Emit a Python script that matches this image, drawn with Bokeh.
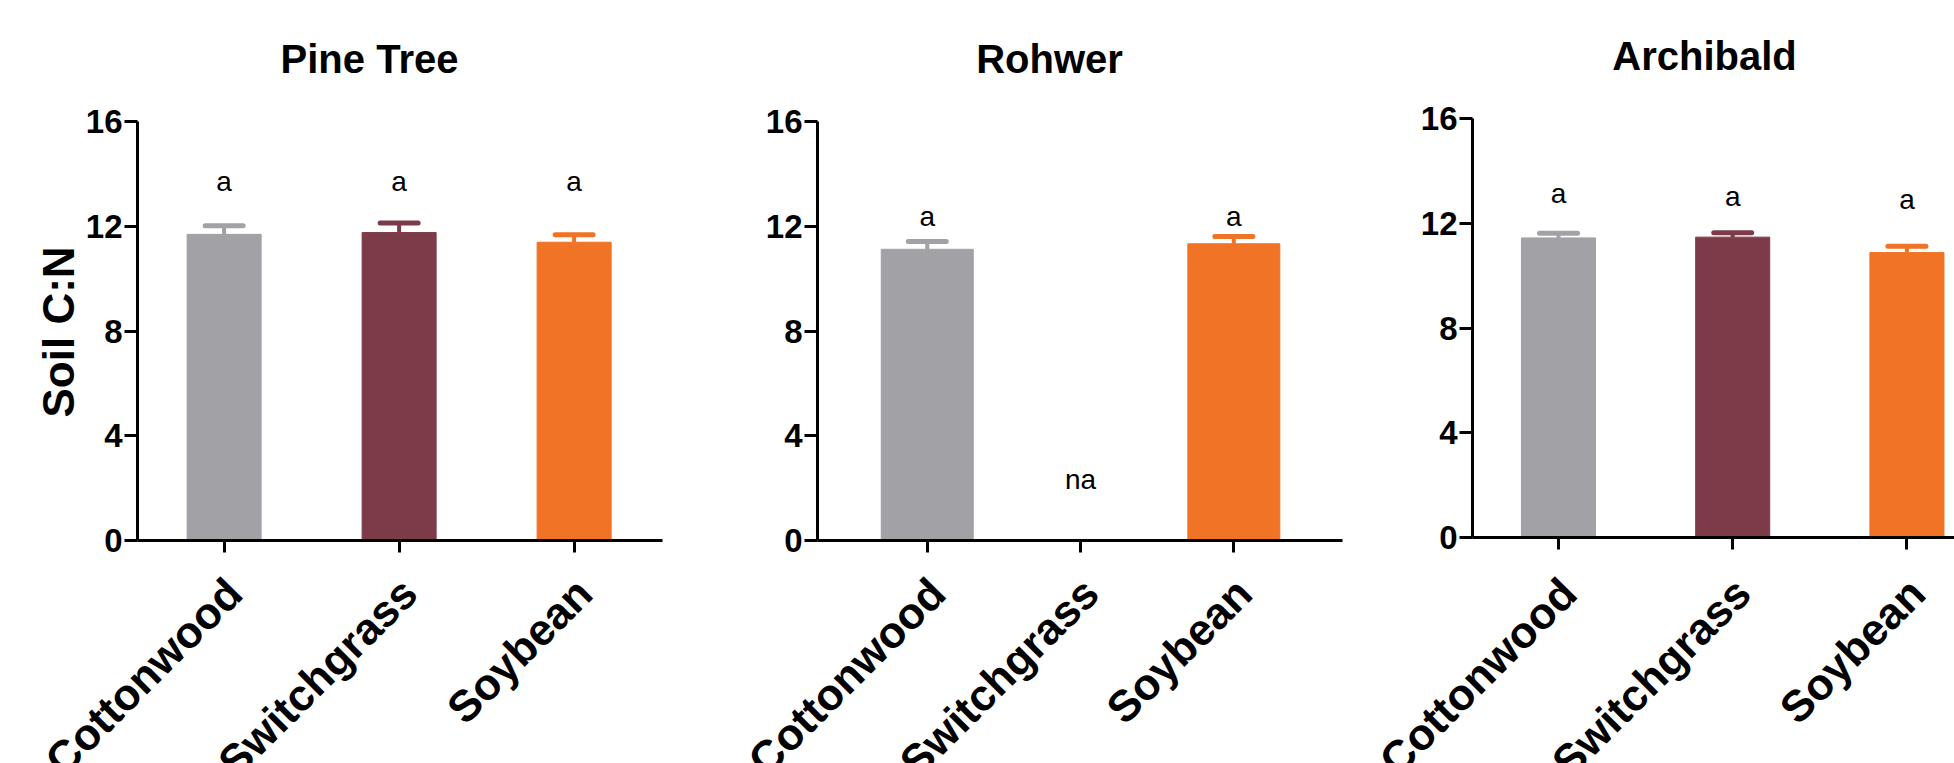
import math
from bokeh.plotting import figure
from bokeh.models import Range1d, FixedTicker, Title, CustomLabelingPolicy
from bokeh.models import ColumnDataSource
from bokeh.layouts import row, column
from bokeh.embed import file_html
from bokeh.resources import INLINE
from bokeh.core.properties import value

# ---------------- data ----------------
categories = ["Cottonwood", "Switchgrass", "Soybean"]
sites = ["Pine Tree", "Rohwer", "Archibald"]

pine_tree_mean = [11.69, 11.76, 11.39]
pine_tree_se = [0.33, 0.36, 0.29]
rohwer_mean = [11.12, None, 11.33]
rohwer_se = [0.30, None, 0.28]
archibald_mean = [11.44, 11.47, 10.88]
archibald_se = [0.18, 0.17, 0.24]

pine_tree_letters = ["a", "a", "a"]
rohwer_letters = ["a", "na", "a"]
archibald_letters = ["a", "a", "a"]
pine_tree_letter_y = [13.7, 13.7, 13.7]
rohwer_letter_y = [12.39, 2.33, 12.39]
archibald_letter_y = [13.13, 13.02, 12.89]

bar_colors = ["#A2A1A6", "#7D3B4A", "#F07326"]
y_ticks = [0, 4, 8, 12, 16]
y_label = "Soil C:N"

FONT = "Liberation Sans"
PAGE_H = 763
AXIS_H = 419          # pixels between 0 and 16 on the value axis
BOTTOM = 25           # border under the frame holding the x ticks
UPP = 16 / AXIS_H     # value units per pixel
STRIP_TOP = 121 + AXIS_H + BOTTOM
STRIP_H = PAGE_H - STRIP_TOP
LABEL_Y = 585         # page row of the category-name anchors


def make_panel(title, means, ses, letters, letter_y, x_start, x_end, bar_w,
               fig_w, left, right, top_px, show_ylabel):
    frame_w = fig_w - left - right
    main_h = top_px + AXIS_H + BOTTOM
    p = figure(width=fig_w, height=main_h,
               x_range=Range1d(x_start, x_end),
               y_range=Range1d(0, 16 + top_px * UPP),
               output_backend="svg", toolbar_location=None,
               min_border_left=left, min_border_right=right,
               min_border_top=0, min_border_bottom=BOTTOM)
    p.outline_line_color = None
    p.grid.visible = False

    idx = [i for i, m in enumerate(means) if m is not None]
    half = 19 * (x_end - x_start) / frame_w
    src = ColumnDataSource(dict(
        x=idx,
        top=[means[i] for i in idx],
        upper=[means[i] + ses[i] for i in idx],
        cx0=[i - half for i in idx],
        cx1=[i + half for i in idx],
        color=[bar_colors[i] for i in idx],
    ))
    p.vbar(x="x", top="top", bottom=0, width=bar_w, fill_color="color",
           line_color="color", line_width=1, source=src)
    p.segment(x0="x", y0="top", x1="x", y1="upper", line_color="color",
              line_width=4, source=src)
    p.segment(x0="cx0", y0="upper", x1="cx1", y1="upper", line_color="color",
              line_width=5, line_cap="round", source=src)

    # significance letters
    p.text(x=list(range(len(categories))), y=letter_y, text=letters,
           text_font=value(FONT), text_font_size="28px", text_align="center",
           text_baseline="middle", text_color="black")

    # panel title
    p.text(x=[x_start], y=[16 + 63 * UPP], text=[title], x_offset=232,
           text_font=value(FONT), text_font_size="40px",
           text_font_style="bold", text_align="center",
           text_baseline="middle", text_color="black")

    # axes
    xa = p.xaxis[0]
    xa.ticker = FixedTicker(ticks=list(range(len(categories))))
    xa.major_label_overrides = {i: "" for i in range(len(categories))}
    xa.major_label_policy = CustomLabelingPolicy(
        code="for (const i of indices) { indices.unset(i) }\nreturn indices")
    xa.major_label_text_font_size = "10px"
    xa.major_label_standoff = 0
    xa.major_tick_out = 12
    xa.major_tick_in = 0
    xa.major_tick_line_width = 3
    xa.major_tick_line_color = "black"
    xa.axis_line_width = 3
    xa.axis_line_color = "black"
    xa.minor_tick_line_color = None

    ya = p.yaxis[0]
    ya.ticker = FixedTicker(ticks=y_ticks)
    ya.bounds = (0, 16)
    ya.major_label_text_font = FONT
    ya.major_label_text_font_size = "33px"
    ya.major_label_text_font_style = "bold"
    ya.major_label_text_color = "black"
    ya.major_label_standoff = 2
    ya.major_tick_out = 13
    ya.major_tick_in = 0
    ya.major_tick_line_width = 3
    ya.major_tick_line_color = "black"
    ya.axis_line_width = 3
    ya.axis_line_color = "black"
    ya.minor_tick_line_color = None
    if show_ylabel:
        p.add_layout(Title(text=y_label, align="left", offset=123,
                           standoff=0, text_font=FONT,
                           text_font_size="44px", text_font_style="bold",
                           text_color="black"), "left")

    # strip under the axis with the rotated category names
    u = (x_end - x_start) / frame_w
    s = figure(width=fig_w, height=STRIP_H,
               x_range=Range1d(x_start - left * u, x_end + right * u),
               y_range=Range1d(-STRIP_H, 0),
               output_backend="svg", toolbar_location=None,
               min_border_left=0, min_border_right=0,
               min_border_top=0, min_border_bottom=0,
               x_axis_location=None, y_axis_location=None)
    s.outline_line_color = None
    s.grid.visible = False
    s.text(x=list(range(len(categories))),
           y=[STRIP_TOP - LABEL_Y] * len(categories),
           text=categories, x_offset=10, angle=math.pi / 4,
           text_font=value(FONT), text_font_size="44px",
           text_font_style="bold", text_align="right",
           text_baseline="middle", text_color="black")
    return p, s


p1, s1 = make_panel(sites[0], pine_tree_mean, pine_tree_se, pine_tree_letters,
                    pine_tree_letter_y, -0.495, 2.505, 0.423,
                    680, 137, 18, 121, True)
p2, s2 = make_panel(sites[1], rohwer_mean, rohwer_se, rohwer_letters,
                    rohwer_letter_y, -0.716, 2.709, 0.60,
                    682, 137, 20, 121, False)
p3, s3 = make_panel(sites[2], archibald_mean, archibald_se, archibald_letters,
                    archibald_letter_y, -0.4935, 2.273, 0.425,
                    592, 110, 0, 118, False)

layout = column(row(p1, p2, p3), row(s1, s2, s3))
open("out.html", "w").write(file_html(layout, INLINE))
